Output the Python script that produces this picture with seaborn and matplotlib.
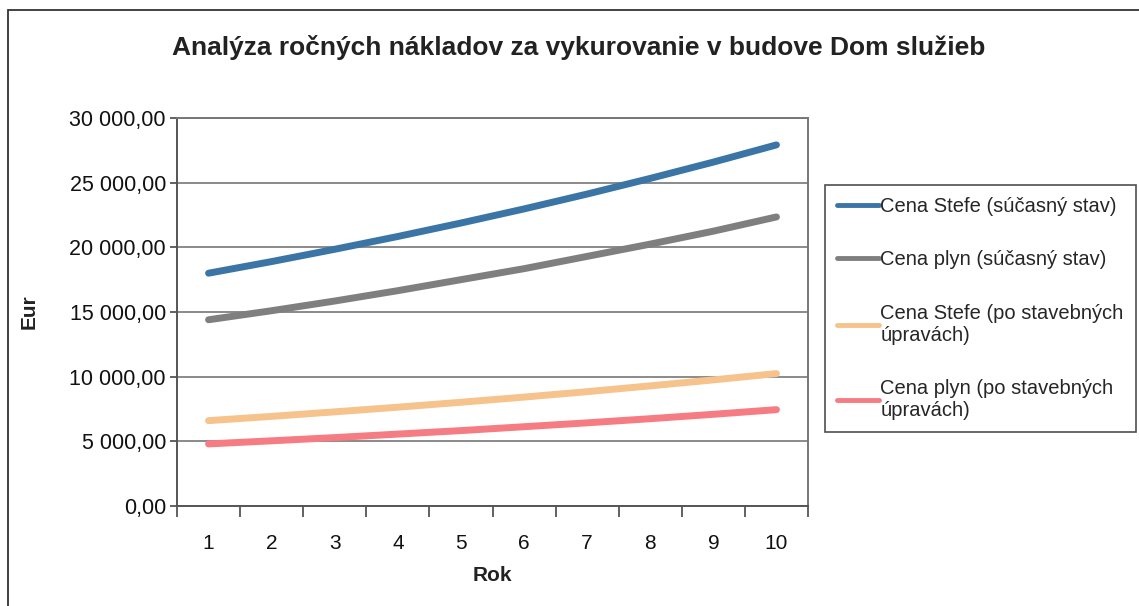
import matplotlib
matplotlib.use("Agg")
import matplotlib.pyplot as plt
from matplotlib.patches import Rectangle
from matplotlib.ticker import FuncFormatter, FixedLocator
import seaborn as sns
import pandas as pd

# ---- data ----
years = [1, 2, 3, 4, 5, 6, 7, 8, 9, 10]
stefe_now = [18000, 18900, 19850, 20840, 21880, 22970, 24120, 25330, 26590, 27920]
plyn_now = [14400, 15100, 15850, 16650, 17500, 18350, 19300, 20250, 21250, 22350]
stefe_after = [6600, 6930, 7280, 7640, 8020, 8420, 8840, 9290, 9750, 10240]
plyn_after = [4800, 5040, 5290, 5560, 5830, 6130, 6430, 6750, 7090, 7450]

series_names = [
    "Cena Stefe (súčasný stav)",
    "Cena plyn (súčasný stav)",
    "Cena Stefe (po stavebných\núpravách)",
    "Cena plyn (po stavebných\núpravách)",
]
series_values = [stefe_now, plyn_now, stefe_after, plyn_after]
colors = ["#3b75a6", "#7f7f7f", "#f6c38c", "#f57c82"]

title = "Analýza ročných nákladov za vykurovanie v budove Dom služieb"
x_label = "Rok"
y_label = "Eur"
y_ticks = [0, 5000, 10000, 15000, 20000, 25000, 30000]

rows = []
for name, vals in zip(series_names, series_values):
    for yr, v in zip(years, vals):
        rows.append({"Rok": yr, "Eur": v, "Séria": name})
df = pd.DataFrame(rows)

sns.set_theme(style="white")
plt.rcParams["font.family"] = ["Liberation Sans", "DejaVu Sans"]

W, H = 1139, 606
fig = plt.figure(figsize=(W / 100, H / 100), dpi=100)
ax = fig.add_axes([177 / W, 1 - 506 / H, (808 - 177) / W, (506 - 118) / H])

sns.lineplot(data=df, x="Rok", y="Eur", hue="Séria", hue_order=series_names,
             palette=colors, linewidth=5, ax=ax, legend=True)

ax.set_xlim(0.5, 10.5)
ax.set_ylim(0, 30000)
ax.yaxis.set_major_locator(FixedLocator(y_ticks))
ax.yaxis.set_major_formatter(FuncFormatter(
    lambda v, p: f"{v:,.2f}".replace(",", " ").replace(".", ",")))
ax.xaxis.set_major_locator(FixedLocator(years))
ax.set_xticklabels([str(y) for y in years])
ax.xaxis.set_minor_locator(FixedLocator([y + 0.5 for y in [0] + years]))
ax.tick_params(axis="x", which="major", length=0, pad=20, labelsize=15, colors="#111111")
ax.tick_params(axis="x", which="minor", length=8, width=1.3, color="#555555", direction="out", bottom=True)
ax.tick_params(axis="y", which="major", length=5, width=1.3, color="#555555", direction="out",
               left=True, pad=3, labelsize=15.5, labelcolor="#111111")

ax.grid(axis="y", color="#8a8a8a", linewidth=1.4)
ax.grid(axis="x", visible=False)
for s in ax.spines.values():
    s.set_visible(True)
    s.set_color("#777777")
    s.set_linewidth(1.4)
ax.spines["left"].set_color("#555555")
ax.spines["bottom"].set_color("#555555")

ax.set_xlabel(x_label, fontsize=15, fontweight="bold", color="#222222")
ax.set_ylabel(y_label, fontsize=15, fontweight="bold", color="#222222")
ax.xaxis.set_label_coords(0.5, -0.155)
ax.yaxis.set_label_coords(-0.22, 0.5)

fig.text(579 / W, 1 - 48 / H, title, ha="center", va="center",
         fontsize=19, fontweight="bold", color="#222222")

handles, labels = ax.get_legend_handles_labels()
leg = ax.legend(handles, labels, loc="upper left",
                bbox_to_anchor=(825 / W, 1 - 185 / H), bbox_transform=fig.transFigure,
                frameon=True, fancybox=False, fontsize=14.5, labelspacing=1.7,
                handlelength=2.1, handletextpad=0.05, borderaxespad=0,
                borderpad=0.6, title=None)
leg.get_frame().set_edgecolor("#222222")
leg.get_frame().set_linewidth(1.2)
for line in leg.get_lines():
    line.set_linewidth(3.5)

# outer chart border (right/bottom edges lie outside the image)
fig.patches.append(Rectangle((8 / W, -0.05), 1.1, 1 - 10 / H + 0.05,
                             transform=fig.transFigure, fill=False,
                             edgecolor="#333333", linewidth=1.3))

fig.savefig("out.png", dpi=100)
